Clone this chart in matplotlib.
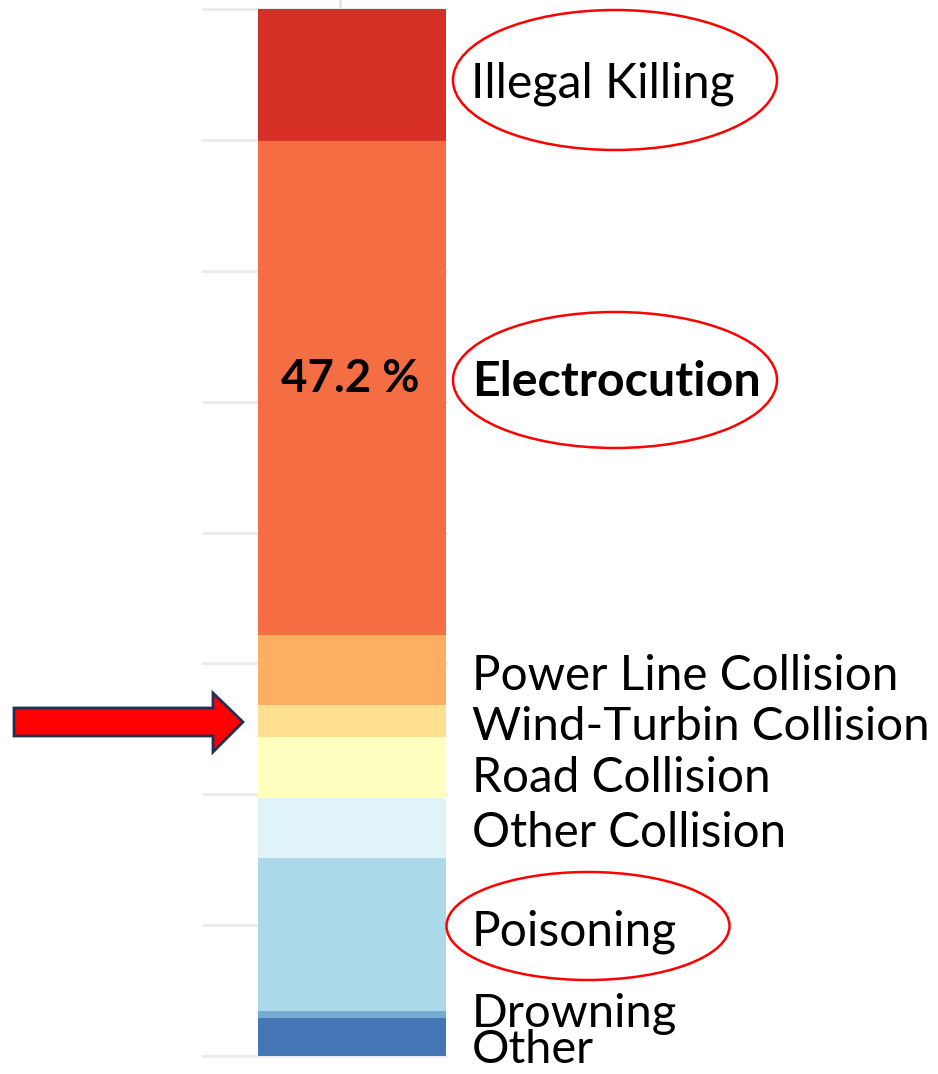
import matplotlib
matplotlib.use("Agg")
import matplotlib.pyplot as plt
from matplotlib.patches import Ellipse, Polygon
from matplotlib.lines import Line2D

# ---- data (percent of mortality causes, bottom to top of the stacked bar) ----
categories = ["Other", "Drowning", "Poisoning", "Other Collision", "Road Collision",
              "Wind-Turbin Collision", "Power Line Collision", "Electrocution", "Illegal Killing"]
values = [3.6, 0.7, 14.6, 5.7, 5.9, 3.0, 6.7, 47.2, 12.6]
colors = ["#4575b4", "#74add1", "#abd9e9", "#e0f3f8", "#ffffbf",
          "#fee090", "#fdae61", "#f46d43", "#d73027"]
gridticks = [0, 12.5, 25, 37.5, 50, 62.5, 75, 87.5, 100]
highlight_label = "47.2 %"

W, H = 938, 1074
fig = plt.figure(figsize=(W / 100, H / 100), dpi=100)
fig.patch.set_facecolor("white")

def fx(x):
    return x / W

def fy(y):
    return 1 - y / H

# axes spanning the bar region (pixels: x 203..446, y 9..1056)
ax_l, ax_r, ax_t, ax_b = 203, 446, 9, 1056
ax = fig.add_axes([fx(ax_l), fy(ax_b), (ax_r - ax_l) / W, (ax_b - ax_t) / H])
ax.set_facecolor("none")
margin = (258 - 203) / (446 - 258)
ax.set_xlim(-0.5 - margin, 0.5)
ax.set_ylim(0, 100)
for s in ax.spines.values():
    s.set_visible(False)
ax.set_xticks([])
ax.set_yticks([])

for g in gridticks:
    ax.axhline(g, color="#ebebeb", lw=2.0, zorder=0, clip_on=False)

bottom = 0
for v, c in zip(values, colors):
    ax.bar(0, v, width=1.0, bottom=bottom, color=c, edgecolor="none", zorder=2)
    bottom += v

# small tick at top
fig.add_artist(Line2D([fx(340), fx(340)], [fy(0), fy(6)], color="#e3e3e3", lw=2,
                      transform=fig.transFigure))

FONT = "Lato"
renderer = fig.canvas.get_renderer()

def fit_text(x, y, s, target_w, bold=False):
    t = fig.text(fx(x), fy(y), s, ha="left", va="baseline", family=FONT,
                 fontweight="bold" if bold else "normal", fontsize=30, color="black")
    w = t.get_window_extent(renderer).width
    t.set_fontsize(30 * target_w / w)
    return t

# label specs: (text, left x, baseline y, width, bold)
labels = [
    ("Illegal Killing", 471, 97, 264, False),
    ("Electrocution", 472, 396, 288, True),
    ("Power Line Collision", 472, 690, 425, False),
    ("Wind-Turbin Collision", 472, 740, 457, False),
    ("Road Collision", 472, 792, 298, False),
    ("Other Collision", 472, 847, 314, False),
    ("Poisoning", 472, 945, 205, False),
    ("Drowning", 472, 1027, 205, False),
    ("Other", 472, 1063, 122, False),
]
for s, x, y, w, b in labels:
    fit_text(x, y, s, w, b)

fit_text(281, 392, highlight_label, 138, True)

# red ellipses
for cx, cy, ew, eh in [(615, 80, 324, 140), (615, 380, 324, 136), (588, 926, 283, 108)]:
    fig.add_artist(Ellipse((fx(cx), fy(cy)), ew / W, eh / H, transform=fig.transFigure,
                           facecolor="none", edgecolor="#ff0000", lw=1.8))

# red arrow pointing to the wind-turbine segment
arrow_px = [(14, 708), (213, 708), (213, 693), (243, 722), (213, 752), (213, 736), (14, 736)]
fig.add_artist(Polygon([(fx(x), fy(y)) for x, y in arrow_px], closed=True,
                       transform=fig.transFigure, facecolor="#ff0000",
                       edgecolor="#1f3056", lw=2))

fig.savefig("out.png", dpi=100, facecolor="white")
